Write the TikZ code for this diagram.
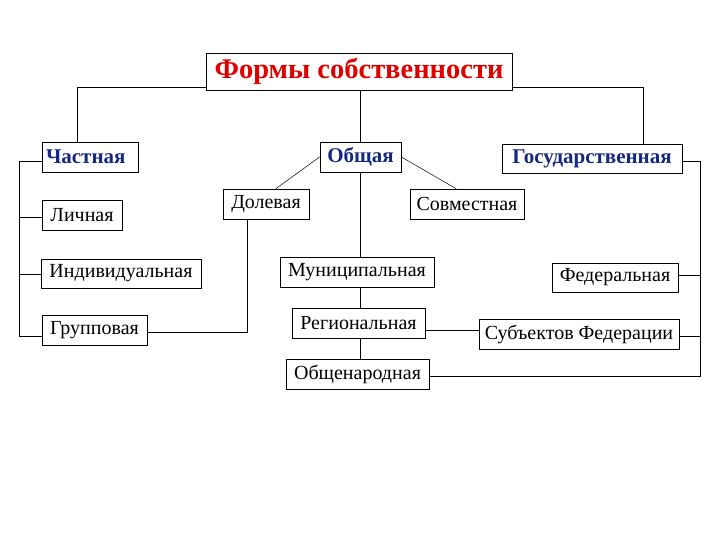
\documentclass[tikz,border=0pt]{standalone}
\usepackage{fontspec}
\setmainfont{Liberation Serif}
\definecolor{tred}{RGB}{220,0,0}
\definecolor{tblue}{RGB}{20,40,130}
\begin{document}
\begin{tikzpicture}[x=1pt,y=-1pt,
  box/.style={draw,line width=0.8pt,inner sep=0pt,font=\fontsize{20}{22}\selectfont},
  hb/.style={box,text=tblue,font=\fontsize{21}{23}\selectfont\bfseries},
  ln/.style={line width=0.8pt}]
\useasboundingbox (0,0) rectangle (720,540);
\node[box,minimum width=306,minimum height=37,font=\fontsize{28.5}{30}\selectfont\bfseries,text=tred] (t) at (359,71.5) {Формы собственности};
\node[hb,minimum width=96,minimum height=30,text width=88,align=left] (ch) at (90,157) {Частная};
\node[hb,minimum width=81,minimum height=30] (ob) at (360.5,157) {Общая};
\node[hb,minimum width=180,minimum height=29] (gos) at (592,158.5) {Государственная};
\node[box,minimum width=80,minimum height=30] (li) at (82,215) {Личная};
\node[box,minimum width=160,minimum height=29] (ind) at (121,273.5) {Индивидуальная};
\node[box,minimum width=105,minimum height=30] (gr) at (94.5,330) {Групповая};
\node[box,minimum width=86,minimum height=30] (dol) at (266,204) {Долевая};
\node[box,minimum width=114,minimum height=30] (sov) at (467,204) {Совместная};
\node[box,minimum width=154,minimum height=30] (mun) at (357,272) {Муниципальная};
\node[box,minimum width=133,minimum height=30] (reg) at (358.5,323) {Региональная};
\node[box,minimum width=143,minimum height=30] (obn) at (357.5,374) {Общенародная};
\node[box,minimum width=126,minimum height=29] (fed) at (615,277.5) {Федеральная};
\node[box,minimum width=200,minimum height=30] (sub) at (579,334) {Субъектов Федерации};
% top connectors
\draw[ln] (t.west|-0,87) -- (77,87) -- (77,0|-ch.north);
\draw[ln] (t.east|-0,87) -- (643,87) -- (643,0|-gos.north);
\draw[ln] (360,0|-t.south) -- (360,0|-ob.north);
\draw[ln] (360,0|-ob.south) -- (360,0|-mun.north);
\draw[ln] (360,0|-mun.south) -- (360,0|-reg.north);
\draw[ln] (360,0|-reg.south) -- (360,0|-obn.north);
% left bracket
\coordinate (lb) at (19,161);
\draw[ln] (ch.west|-lb) -- (lb) -- (19,336) -- (gr.west|-0,336);
\draw[ln] (19,217) -- (li.west|-0,217);
\draw[ln] (19,274) -- (ind.west|-0,274);
% Общая branches
\draw[ln,line width=0.5pt] (ob.west) -- (276,0|-dol.north);
\draw[ln,line width=0.5pt] (ob.east) -- (456,0|-sov.north);
\draw[ln] (gr.east|-0,332) -- (247,332) -- (247,0|-dol.south);
\draw[ln] (reg.east|-0,330) -- (sub.west|-0,330);
% right bracket
\draw[ln] (gos.east|-0,161) -- (700,161) -- (700,376) -- (obn.east|-0,376);
\draw[ln] (700,275) -- (fed.east|-0,275);
\draw[ln] (700,336) -- (sub.east|-0,336);
\end{tikzpicture}
\end{document}
